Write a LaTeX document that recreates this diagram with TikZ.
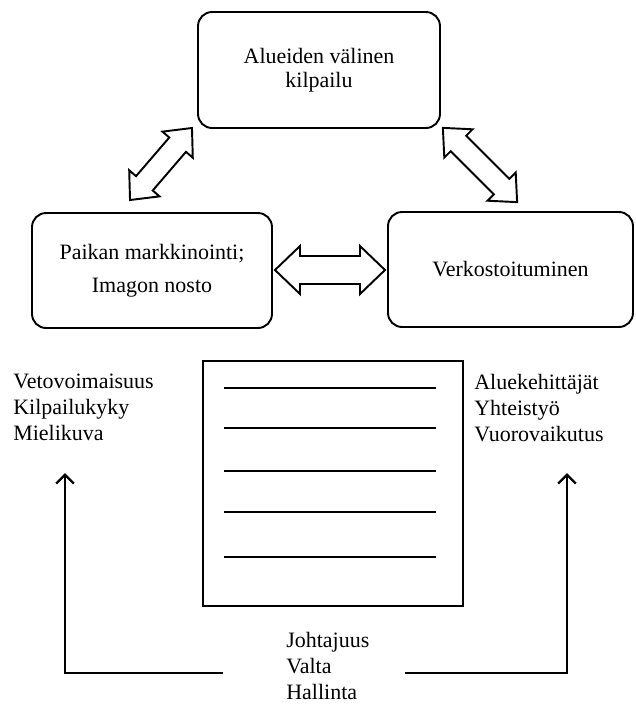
\documentclass[tikz,border=0pt]{standalone}
\usepackage{fontspec}
\setmainfont{Liberation Serif}
\usetikzlibrary{arrows.meta}

\tikzset{
  box/.style={draw, line width=1.1pt, rounded corners=8pt, align=center, inner sep=0pt},
  elenco/.style={align=left, inner sep=0pt, anchor=north west},
  freccia/.style={line width=1.4pt, -{Straight Barb[length=5pt,width=10pt]}},
}

% freccia doppia: centro, angolo, mezza lunghezza, punta, mezzo fusto, mezza punta
\newcommand{\doppia}[6]{%
  \begin{scope}[shift={#1}, rotate=#2]
    \draw[line width=1.1pt, fill=white] (-#3,0) -- (-#3+#4,#6) -- (-#3+#4,#5) -- (#3-#4,#5)
      -- (#3-#4,#6) -- (#3,0) -- (#3-#4,-#6) -- (#3-#4,-#5) -- (-#3+#4,-#5) -- (-#3+#4,-#6) -- cycle;
  \end{scope}}

\begin{document}
\begin{tikzpicture}[x=0.02cm, y=-0.02cm, every node/.style={font=\fontsize{12.5}{14.8}\selectfont}]
\useasboundingbox (0,0) rectangle (636,704);

% riquadri
\node[box, minimum width=4.84cm, minimum height=2.32cm] (alue) at (319,70) {Alueiden välinen\\[-1pt]kilpailu};
\node[box, minimum width=4.80cm, minimum height=2.30cm] (paikka) at (152,270.5) {Paikan markkinointi;\\[4pt]Imagon nosto};
\node[box, minimum width=4.90cm, minimum height=2.30cm] (verkko) at (510.5,269.5) {Verkostoituminen};

% frecce doppie
\doppia{(161,164)}{49.3}{47.5}{22}{11}{20}
\doppia{(480,165)}{-45}{52.5}{22}{11}{20}
\doppia{(330,270)}{0}{55}{25}{14}{24}

% tabella
\node[draw, line width=1pt, minimum width=5.2cm, minimum height=4.9cm] (quadro) at (333,483.5) {};
\foreach \y in {388,428,471,512,557}
  \draw[line width=1.3pt] (224,\y) -- (436,\y);

% testi
\node[elenco] (sx) at (13,374) {Vetovoimaisuus\\Kilpailukyky\\Mielikuva};
\node[elenco] (dx) at (474,374) {Aluekehittäjät\\Yhteistyö\\Vuorovaikutus};
\node[elenco] (basso) at (286,632) {Johtajuus\\Valta\\Hallinta};

% frecce
\coordinate (sx0) at (223,673);
\coordinate (sx1) at (65,473);
\coordinate (dx0) at (405,673);
\coordinate (dx1) at (567,473);
\draw[freccia] (sx0) -| (sx1);
\draw[freccia] (dx0) -| (dx1);

\end{tikzpicture}
\end{document}
